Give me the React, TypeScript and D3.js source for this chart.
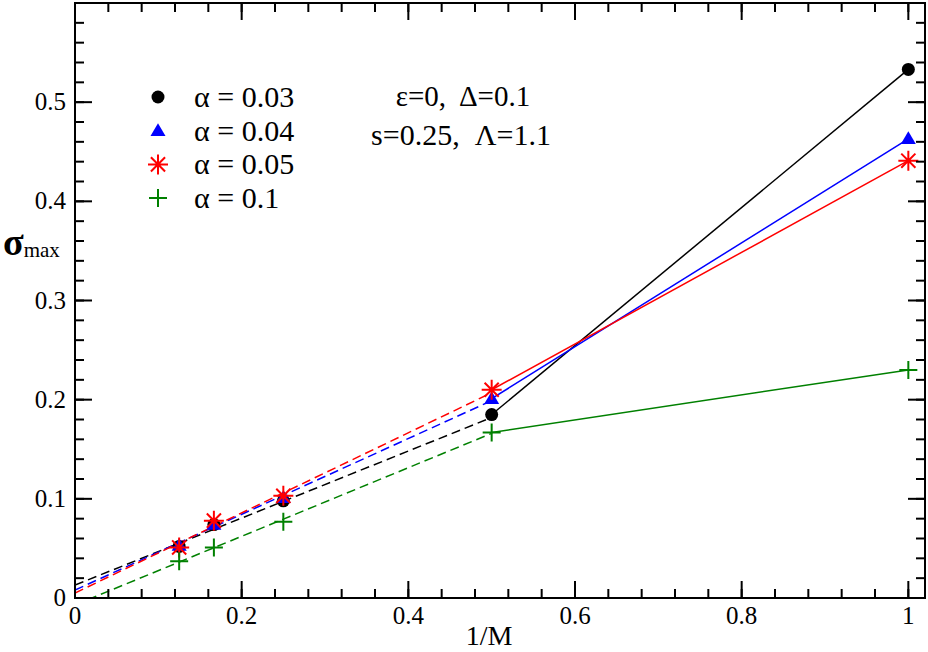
import React from "react";
import * as d3 from "d3";

// 1/M values
const xs = [0.125, 1 / 6, 0.25, 0.5, 1];

const alphaLabels = ["α = 0.03", "α = 0.04", "α = 0.05", "α = 0.1"];
const colors = ["#000000", "#0000ff", "#ff0000", "#008000"];
const markers = ["circle", "triangle", "star", "plus"];

const sigma003 = [0.052, 0.074, 0.098, 0.185, 0.533];
const sigma004 = [0.053, 0.074, 0.101, 0.201, 0.463];
const sigma005 = [0.051, 0.078, 0.103, 0.21, 0.441];
const sigma01 = [0.037, 0.051, 0.077, 0.167, 0.23];
const series = [sigma003, sigma004, sigma005, sigma01];

// linear extrapolation lines (value at 1/M = 0 and at 1/M = 0.5)
const fitX = [0, 0.5];
const fit003 = [0.013, 0.182];
const fit004 = [0.008, 0.199];
const fit005 = [0.005, 0.207];
const fit01 = [-0.007, 0.166];
const fits = [fit003, fit004, fit005, fit01];

const xTicks = [0, 0.2, 0.4, 0.6, 0.8, 1];
const yTicks = [0, 0.1, 0.2, 0.3, 0.4, 0.5];

const W = 928;
const H = 652;
const m = { left: 75, right: 3, top: 3, bottom: 54 };
const serif = { fontFamily: "Liberation Serif", whiteSpace: "pre" } as React.CSSProperties;

function Marker({ type, x, y, color }: { type: string; x: number; y: number; color: string }) {
  if (type === "circle") return <circle cx={x} cy={y} r={6.5} fill={color} />;
  if (type === "triangle") {
    const s = 7.5;
    return <path d={`M${x},${y - s}L${x + s},${y + s * 0.7}L${x - s},${y + s * 0.7}Z`} fill={color} />;
  }
  if (type === "star") {
    const r = 10;
    const d = r * Math.SQRT1_2;
    return (
      <path
        d={`M${x},${y - r}V${y + r}M${x - r},${y}H${x + r}M${x - d},${y - d}L${x + d},${y + d}M${x - d},${y + d}L${x + d},${y - d}`}
        stroke={color}
        strokeWidth={2}
      />
    );
  }
  const r = 9;
  return <path d={`M${x},${y - r}V${y + r}M${x - r},${y}H${x + r}`} stroke={color} strokeWidth={2} />;
}

export default function App() {
  const x = d3.scaleLinear().domain([0, 1.02]).range([m.left, W - m.right]);
  const y = d3.scaleLinear().domain([0, 0.6]).range([H - m.bottom, m.top]);
  const x0 = m.left, x1 = W - m.right, y0 = H - m.bottom, y1 = m.top;

  const xMinor = d3.range(0, 1.02, 0.04);
  const yMinor = d3.range(0, 0.6, 0.02);

  const line = d3.line<[number, number]>().x((d) => x(d[0])).y((d) => y(d[1]));

  return (
    <svg width={W} height={H} style={{ position: "absolute", left: 0, top: 0 }}>
      <defs>
        <clipPath id="plot">
          <rect x={x0} y={y1} width={x1 - x0} height={y0 - y1} />
        </clipPath>
      </defs>
      <rect width={W} height={H} fill="#fff" />

      <g clipPath="url(#plot)">
        {fits.map((f, i) => (
          <path
            key={"f" + i}
            d={line(fitX.map((v, j) => [v, f[j]]) as [number, number][]) || ""}
            fill="none"
            stroke={colors[i]}
            strokeWidth={1.5}
            strokeDasharray="9,5"
          />
        ))}
        {series.map((s, i) => (
          <path
            key={"s" + i}
            d={line(xs.slice(3).map((v, j) => [v, s[j + 3]]) as [number, number][]) || ""}
            fill="none"
            stroke={colors[i]}
            strokeWidth={1.5}
          />
        ))}
        {series.map((s, i) =>
          s.map((v, j) => <Marker key={i + "-" + j} type={markers[i]} x={x(xs[j])} y={y(v)} color={colors[i]} />)
        )}
      </g>

      {/* frame and ticks */}
      <rect x={x0} y={y1} width={x1 - x0} height={y0 - y1} fill="none" stroke="#000" strokeWidth={2} />
      <g stroke="#000" strokeWidth={2}>
        {xMinor.map((t, i) => (
          <g key={"xm" + i}>
            <line x1={x(t)} x2={x(t)} y1={y0} y2={y0 - 9} />
            <line x1={x(t)} x2={x(t)} y1={y1} y2={y1 + 9} />
          </g>
        ))}
        {xTicks.map((t, i) => (
          <g key={"xM" + i}>
            <line x1={x(t)} x2={x(t)} y1={y0} y2={y0 - 17} />
            <line x1={x(t)} x2={x(t)} y1={y1} y2={y1 + 17} />
          </g>
        ))}
        {yMinor.map((t, i) => (
          <g key={"ym" + i}>
            <line x1={x0} x2={x0 + 9} y1={y(t)} y2={y(t)} />
            <line x1={x1} x2={x1 - 9} y1={y(t)} y2={y(t)} />
          </g>
        ))}
        {yTicks.map((t, i) => (
          <g key={"yM" + i}>
            <line x1={x0} x2={x0 + 17} y1={y(t)} y2={y(t)} />
            <line x1={x1} x2={x1 - 17} y1={y(t)} y2={y(t)} />
          </g>
        ))}
      </g>

      <g fontSize={25} fill="#000">
        {xTicks.map((t, i) => (
          <text key={"xl" + i} x={x(t)} y={y0 + 26} textAnchor="middle" style={serif}>
            {d3.format("~g")(t)}
          </text>
        ))}
        {yTicks.map((t, i) => (
          <text key={"yl" + i} x={x0 - 9} y={y(t) + 8} textAnchor="end" style={serif}>
            {d3.format("~g")(t)}
          </text>
        ))}
      </g>

      <text x={489} y={645} fontSize={28} textAnchor="middle" style={serif}>1/M</text>
      <text x={3} y={255} fontSize={38} fontWeight="bold" style={serif}>
        σ<tspan fontSize={21} fontWeight="normal" dy={2}>max</tspan>
      </text>

      {/* legend */}
      {alphaLabels.map((l, i) => (
        <g key={"lg" + i}>
          <Marker type={markers[i]} x={158} y={97 + i * 33.7} color={colors[i]} />
          <text x={194} y={107 + i * 33.7} fontSize={30} style={serif}>{l}</text>
        </g>
      ))}

      <text x={463} y={106} fontSize={29} textAnchor="middle" style={serif}>ε=0,  Δ=0.1</text>
      <text x={461} y={145} fontSize={30} textAnchor="middle" style={serif}>s=0.25,  Λ=1.1</text>
    </svg>
  );
}
